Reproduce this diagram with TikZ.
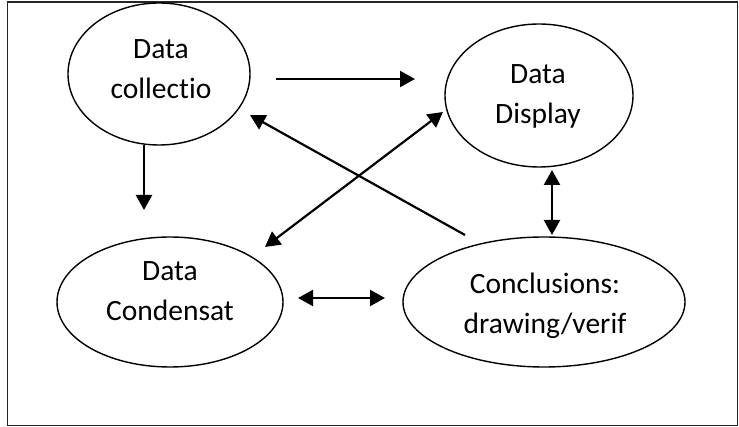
\documentclass[tikz,border=0pt]{standalone}
\usepackage{fontspec}
\setmainfont{Carlito}[Ligatures=NoCommon]
\usetikzlibrary{arrows.meta,shapes.geometric}
\begin{document}
\begin{tikzpicture}[x=1pt,y=-1pt,
  oval/.style={draw=black,line width=1.4pt,ellipse,inner sep=0pt},
  lbl/.style={inner sep=0pt,align=center,font=\fontsize{29.5}{40}\selectfont},
  arr/.style={line width=2.2pt,-{Triangle[length=15pt,width=16pt]}},
  darr/.style={line width=2.2pt,{Triangle[length=15pt,width=16pt]}-{Triangle[length=15pt,width=16pt]}}]
\useasboundingbox (0,0) rectangle (739,427);
\draw[line width=1.2pt,black!85] (7.5,2) rectangle (737.5,425.5);
% ellipses
\node[oval,minimum width=182pt,minimum height=142pt] (coll) at (159,74) {};
\node[oval,minimum width=188pt,minimum height=143pt] (disp) at (539,95.5) {};
\node[oval,minimum width=226pt,minimum height=130pt] (cond) at (170,302) {};
\node[oval,minimum width=282pt,minimum height=130pt] (conc) at (544,302) {};
% texts
\node[lbl] (collT) at (161,69) {Data\\collectio};
\node[lbl] (dispT) at (538,96) {Data\\Display};
\node[lbl] (condT) at (170,291) {Data\\Condensat};
\node[lbl] (concT) at (545,306) {Conclusions:\\drawing/verif};
% connector end points
\coordinate (h1) at (276,79);
\coordinate (h2) at (415,79);
\coordinate (v1) at (144,145);
\coordinate (v2) at (144,210);
\coordinate (d1) at (552,170);
\coordinate (d2) at (552,235);
\coordinate (b1) at (298,298);
\coordinate (b2) at (385,298);
\coordinate (x1) at (443,112);
\coordinate (x2) at (265,247);
\coordinate (y1) at (465,235);
\coordinate (y2) at (250,115);
% connectors
\draw[arr] (h1) -- (h2);
\draw[arr] (v1) -- (v2);
\draw[darr] (d1) -- (d2);
\draw[darr] (b1) -- (b2);
\draw[darr] (x1) -- (x2);
\draw[arr] (y1) -- (y2);
\end{tikzpicture}
\end{document}
